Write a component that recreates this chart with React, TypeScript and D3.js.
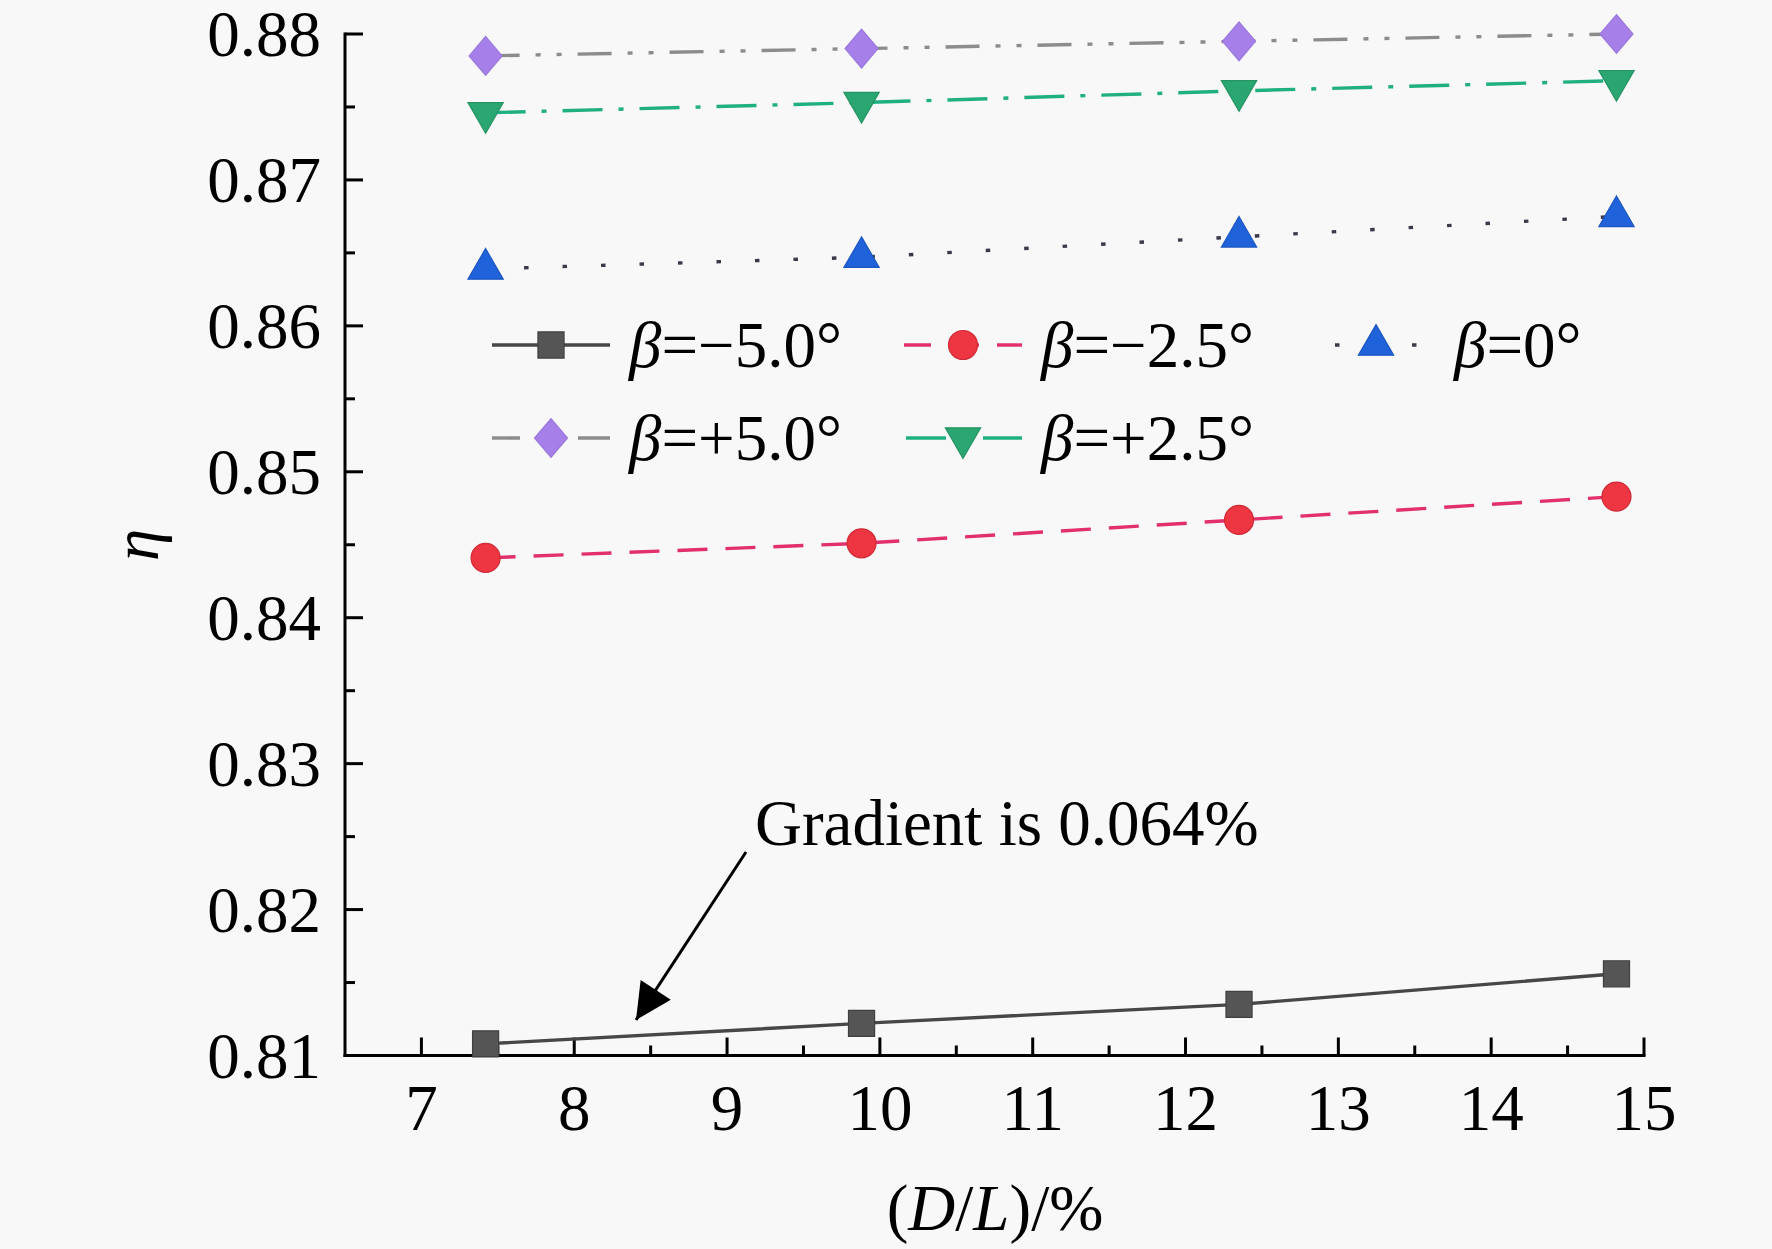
// Efficiency vs D/L for several blade angles β
import React, { useEffect, useRef } from 'react';
import * as d3 from 'd3';

const dl = [7.42, 9.88, 12.35, 14.82];
const etaM50 = [0.8108, 0.8122, 0.8135, 0.8156];
const etaM25 = [0.8441, 0.8451, 0.8467, 0.8483];
const eta0 = [0.8639, 0.8647, 0.8661, 0.8675];
const etaP50 = [0.8785, 0.879, 0.8795, 0.88];
const etaP25 = [0.8746, 0.8753, 0.8761, 0.8768];

const xTicks = [7, 8, 9, 10, 11, 12, 13, 14, 15];
const yTicks = [0.81, 0.82, 0.83, 0.84, 0.85, 0.86, 0.87, 0.88];

// wider rhombus than d3's built-in diamond
const wideDiamond = {
  draw(context: any, size: number) {
    const h = Math.sqrt(size / 1.7);
    const w = h * 0.85;
    context.moveTo(0, -h);
    context.lineTo(w, 0);
    context.lineTo(0, h);
    context.lineTo(-w, 0);
    context.closePath();
  },
};

const series = [
  { key: 'm50', label: '−5.0°', values: etaM50, symbol: d3.symbolSquare, size: 680, rotate: 0, fill: '#555555', stroke: '#404040', line: '#474747', dash: '', col: 0, row: 0, offset: 0 },
  { key: 'm25', label: '−2.5°', values: etaM25, symbol: d3.symbolCircle, size: 660, rotate: 0, fill: '#ee3542', stroke: '#d02a36', line: '#e2306a', dash: '30 18', col: 1, row: 0, offset: 3 },
  { key: 'z', label: '0°', values: eta0, symbol: d3.symbolTriangle, size: 540, rotate: 0, fill: '#1f62da', stroke: '#1c56c0', line: '#3a3a4a', dash: '4.5 34', col: 2, row: 0, offset: -18 },
  { key: 'p50', label: '+5.0°', values: etaP50, symbol: wideDiamond, size: 640, rotate: 0, fill: '#a77fe8', stroke: '#9a78de', line: '#8c8c8c', dash: '34 16 5 16 5 16', col: 0, row: 1, offset: 6 },
  { key: 'p25', label: '+2.5°', values: etaP25, symbol: d3.symbolTriangle, size: 540, rotate: 180, fill: '#2aa673', stroke: '#249462', line: '#20b080', dash: '40 16 5 16', col: 1, row: 1, offset: -2 },
];

const FONT = '"Liberation Serif", "Times New Roman", serif';

const App: React.FC = () => {
  const svgRef = useRef<SVGSVGElement>(null);

  useEffect(() => {
    const svg = d3.select(svgRef.current);
    svg.selectAll('*').remove();

    const width = 1772;
    const height = 1249;
    const margin = { top: 34, right: 128, bottom: 193.5, left: 345 };

    svg.append('rect').attr('width', width).attr('height', height).attr('fill', '#f8f8f8');

    const x = d3.scaleLinear().domain([6.5, 15]).range([margin.left, width - margin.right]);
    const y = d3.scaleLinear().domain([0.81, 0.88]).range([height - margin.bottom, margin.top]);

    const axisColor = '#000';

    // y axis
    const yAxis = svg.append('g').attr('transform', `translate(${margin.left},0)`);
    yAxis.append('line')
      .attr('x1', 0).attr('x2', 0)
      .attr('y1', y(0.88) - 1.5).attr('y2', y(0.81) + 1.5)
      .attr('stroke', axisColor).attr('stroke-width', 3);
    yTicks.forEach((t) => {
      yAxis.append('line')
        .attr('x1', 0).attr('x2', 18).attr('y1', y(t)).attr('y2', y(t))
        .attr('stroke', axisColor).attr('stroke-width', 3);
      yAxis.append('text')
        .attr('x', -24).attr('y', y(t) + 22)
        .attr('text-anchor', 'end')
        .style('font-family', FONT).style('font-size', '65px')
        .text(t.toFixed(2));
    });
    d3.range(0.815, 0.88, 0.01).forEach((t) => {
      yAxis.append('line')
        .attr('x1', 0).attr('x2', 10).attr('y1', y(t)).attr('y2', y(t))
        .attr('stroke', axisColor).attr('stroke-width', 3);
    });

    // x axis
    const xAxis = svg.append('g').attr('transform', `translate(0,${y(0.81)})`);
    xAxis.append('line')
      .attr('x1', x(6.5) - 1.5).attr('x2', x(15) + 1.5)
      .attr('y1', 0).attr('y2', 0)
      .attr('stroke', axisColor).attr('stroke-width', 3);
    xTicks.forEach((t) => {
      xAxis.append('line')
        .attr('x1', x(t)).attr('x2', x(t)).attr('y1', 0).attr('y2', -18)
        .attr('stroke', axisColor).attr('stroke-width', 3);
      xAxis.append('text')
        .attr('x', x(t)).attr('y', 74)
        .attr('text-anchor', 'middle')
        .style('font-family', FONT).style('font-size', '65px')
        .text(String(t));
    });
    d3.range(7.5, 15, 1).forEach((t) => {
      xAxis.append('line')
        .attr('x1', x(t)).attr('x2', x(t)).attr('y1', 0).attr('y2', -10)
        .attr('stroke', axisColor).attr('stroke-width', 3);
    });

    // axis titles
    const xTitle = svg.append('text')
      .attr('x', 995).attr('y', 1230)
      .attr('text-anchor', 'middle')
      .style('font-family', FONT).style('font-size', '65px');
    xTitle.append('tspan').text('(');
    xTitle.append('tspan').style('font-style', 'italic').text('D');
    xTitle.append('tspan').text('/');
    xTitle.append('tspan').style('font-style', 'italic').text('L');
    xTitle.append('tspan').text(')/%');

    svg.append('text')
      .attr('transform', `translate(158,${(margin.top + y(0.81)) / 2}) rotate(-90)`)
      .attr('text-anchor', 'middle')
      .style('font-family', FONT).style('font-size', '65px').style('font-style', 'italic')
      .text('η');

    // series
    series.forEach((s) => {
      const line = d3.line<number>()
        .x((_, i) => x(dl[i]))
        .y((d) => y(d));
      svg.append('path')
        .datum(s.values)
        .attr('fill', 'none')
        .attr('stroke', s.line)
        .attr('stroke-width', 3.4)
        .attr('stroke-dasharray', s.dash || null)
        .attr('d', line);
    });
    series.forEach((s) => {
      const sym = d3.symbol().type(s.symbol as any).size(s.size);
      s.values.forEach((v, i) => {
        svg.append('path')
          .attr('d', sym())
          .attr('transform', `translate(${x(dl[i])},${y(v)}) rotate(${s.rotate})`)
          .attr('fill', s.fill)
          .attr('stroke', s.stroke)
          .attr('stroke-width', 1.2);
      });
    });

    // legend
    const colX = [492, 904, 1317];
    const rowY = [345, 438];
    series.forEach((s) => {
      const lx = colX[s.col];
      const ly = rowY[s.row];
      const g = svg.append('g');
      g.append('line')
        .attr('x1', lx).attr('x2', lx + 118).attr('y1', ly).attr('y2', ly)
        .attr('stroke', s.line).attr('stroke-width', 3.4)
        .attr('stroke-dasharray', s.dash || null)
        .attr('stroke-dashoffset', s.offset);
      g.append('path')
        .attr('d', d3.symbol().type(s.symbol as any).size(s.size)())
        .attr('transform', `translate(${lx + 59},${ly}) rotate(${s.rotate})`)
        .attr('fill', s.fill).attr('stroke', s.stroke).attr('stroke-width', 1.2);
      const t = g.append('text')
        .attr('x', lx + 137).attr('y', ly + 22)
        .style('font-family', FONT).style('font-size', '65px');
      t.append('tspan').style('font-style', 'italic').text('β');
      t.append('tspan').text('=' + s.label);
    });

    // annotation
    svg.append('defs').append('marker')
      .attr('id', 'arrowHead')
      .attr('viewBox', '0 0 10 10')
      .attr('refX', 10).attr('refY', 5)
      .attr('markerWidth', 44).attr('markerHeight', 36)
      .attr('markerUnits', 'userSpaceOnUse')
      .attr('orient', 'auto')
      .append('path').attr('d', 'M0,0 L10,5 L0,10 Z').attr('fill', '#000');

    svg.append('line')
      .attr('x1', 746).attr('y1', 852)
      .attr('x2', 636).attr('y2', 1020)
      .attr('stroke', '#000').attr('stroke-width', 3)
      .attr('marker-end', 'url(#arrowHead)');

    svg.append('text')
      .attr('x', 755).attr('y', 845)
      .style('font-family', FONT).style('font-size', '65px')
      .text('Gradient is 0.064%');
  }, []);

  return (
    <svg
      ref={svgRef}
      width={1772}
      height={1249}
      style={{ position: 'absolute', left: 0, top: 0, display: 'block' }}
    />
  );
};

export default App;
